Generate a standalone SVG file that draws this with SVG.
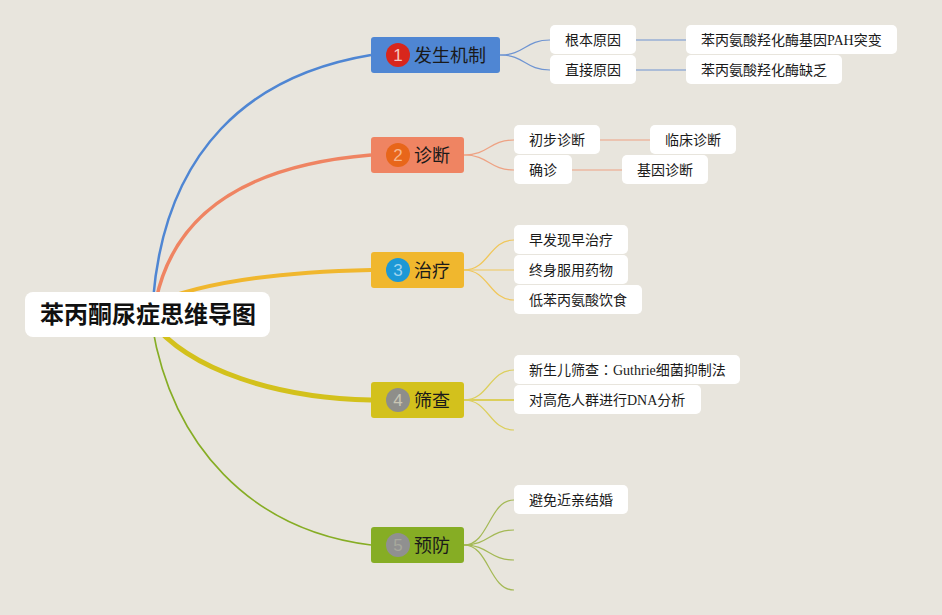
<svg xmlns="http://www.w3.org/2000/svg" width="942" height="615" viewBox="0 0 942 615">
<style>
.bg{fill:#e8e5dd}
.child rect{fill:#ffffff}
.t{font-family:"Liberation Serif","Noto Sans CJK SC",serif;font-size:14px;fill:#1a1a1a}
.mt{font-family:"Noto Sans CJK SC",sans-serif;font-size:18px;fill:#1a1a1a}
.num{font-family:"Liberation Sans","Noto Sans",sans-serif;font-size:17px;text-anchor:middle}
.root{font-family:"Noto Sans CJK SC",sans-serif;font-size:24px;font-weight:bold;fill:#111}
.jp{font-family:"Noto Sans CJK JP",sans-serif}
.c{fill:none}
</style>
<rect class="bg" x="0" y="0" width="942" height="615"/>
<g id="connectors">
  <path class="c" d="M153,300 C165,150 250,75 371,55" stroke="#4f86d3" stroke-width="2.5"/>
  <path class="c" d="M156,300 C175,210 250,165 371,155" stroke="#ef8462" stroke-width="3.5"/>
  <path class="c" d="M150,305 C200,282 280,272 371,270" stroke="#f0b72e" stroke-width="4"/>
  <path class="c" d="M150,320 C190,372 280,398 371,400" stroke="#d3c11c" stroke-width="5"/>
  <path class="c" d="M152,325 C172,445 250,530 371,545" stroke="#86ad24" stroke-width="1.6"/>
  <g stroke="#6e94d2" stroke-width="1.2" fill="none">
    <path d="M500,55 C525,55 525,40 550,40"/>
    <path d="M500,55 C525,55 525,70 550,70"/>
    <path d="M636,40 L686,40"/>
    <path d="M636,70 L686,70"/>
  </g>
  <g stroke="#eea283" stroke-width="1.2" fill="none">
    <path d="M464,155 C489,155 489,140 514,140"/>
    <path d="M464,155 C489,155 489,170 514,170"/>
    <path d="M600,140 L650,140"/>
    <path d="M572,170 L622,170"/>
  </g>
  <g stroke="#f0c75a" stroke-width="1.2" fill="none">
    <path d="M464,270 C489,270 489,240 514,240"/>
    <path d="M464,270 L514,270"/>
    <path d="M464,270 C489,270 489,300 514,300"/>
  </g>
  <g stroke="#dccf5c" stroke-width="1.2" fill="none">
    <path d="M464,400 C489,400 489,370 514,370"/>
    <path d="M464,400 L514,400" stroke-width="2"/>
    <path d="M464,400 C489,400 489,430 514,430"/>
  </g>
  <g stroke="#a4b955" stroke-width="1.2" fill="none">
    <path d="M464,545 C489,545 489,500 514,500"/>
    <path d="M464,545 C489,545 489,530 514,530"/>
    <path d="M464,545 C489,545 489,560 514,560"/>
    <path d="M464,545 C489,545 489,590 514,590"/>
  </g>
</g>
<g id="root">
  <rect x="25" y="292" width="245" height="45" rx="8" fill="#ffffff"/>
  <text class="root" x="40" y="323">苯丙酮尿症思维导图</text>
</g>
<g id="n1">
  <rect x="371" y="37" width="129" height="36" rx="3" fill="#4f86d3"/>
  <circle cx="398" cy="55" r="12" fill="#d8261c"/>
  <text class="num" x="398" y="61" fill="#f6c8c0">1</text>
  <text class="mt" x="414" y="61.5">发生机制</text>
</g>
<g id="n2">
  <rect x="371" y="137" width="93" height="36" rx="3" fill="#ef8462"/>
  <circle cx="398" cy="155" r="12" fill="#e8661a"/>
  <text class="num" x="398" y="161" fill="#f7b58c">2</text>
  <text class="mt" x="414" y="161.5">诊断</text>
</g>
<g id="n3">
  <rect x="371" y="252" width="93" height="36" rx="3" fill="#f0b72e"/>
  <circle cx="398" cy="270" r="12" fill="#1d98d6"/>
  <text class="num" x="398" y="276" fill="#9fd4ef">3</text>
  <text class="mt" x="414" y="276.5">治疗</text>
</g>
<g id="n4">
  <rect x="371" y="382" width="93" height="36" rx="3" fill="#d3c11c"/>
  <circle cx="398" cy="400" r="12" fill="#8e8e8a"/>
  <text class="num" x="398" y="406" fill="#c9c6b4">4</text>
  <text class="mt" x="414" y="406.5">筛查</text>
</g>
<g id="n5">
  <rect x="371" y="527" width="93" height="36" rx="3" fill="#86ad24"/>
  <circle cx="398" cy="545" r="12" fill="#909090"/>
  <text class="num" x="398" y="551" fill="#a7a89c">5</text>
  <text class="mt" x="414" y="551.5">预防</text>
</g>
<g id="c1a" class="child"><rect x="550" y="25" width="86" height="29" rx="5"/><text class="t" x="565" y="44.5">根本原因</text></g>
<g id="c1b" class="child"><rect x="550" y="55" width="86" height="29" rx="5"/><text class="t" x="565" y="74.5">直接原因</text></g>
<g id="c1a1" class="child"><rect x="686" y="25" width="211" height="29" rx="5"/><text class="t" x="701" y="44.5">苯丙氨酸羟化酶基因PAH突变</text></g>
<g id="c1b1" class="child"><rect x="686" y="55" width="156" height="29" rx="5"/><text class="t" x="701" y="74.5">苯丙氨酸羟化酶缺乏</text></g>
<g id="c2a" class="child"><rect x="514" y="125" width="86" height="29" rx="5"/><text class="t" x="529" y="144.5">初步诊断</text></g>
<g id="c2b" class="child"><rect x="514" y="155" width="58" height="29" rx="5"/><text class="t" x="529" y="174.5">确诊</text></g>
<g id="c2a1" class="child"><rect x="650" y="125" width="86" height="29" rx="5"/><text class="t" x="665" y="144.5">临床诊断</text></g>
<g id="c2b1" class="child"><rect x="622" y="155" width="86" height="29" rx="5"/><text class="t" x="637" y="174.5">基因诊断</text></g>
<g id="c3a" class="child"><rect x="514" y="225" width="114" height="29" rx="5"/><text class="t" x="529" y="244.5">早发现早治疗</text></g>
<g id="c3b" class="child"><rect x="514" y="255" width="114" height="29" rx="5"/><text class="t" x="529" y="274.5">终身服用药物</text></g>
<g id="c3c" class="child"><rect x="514" y="285" width="128" height="29" rx="5"/><text class="t" x="529" y="304.5">低苯丙氨酸饮食</text></g>
<g id="c4a" class="child"><rect x="514" y="355" width="226" height="29" rx="5"/><text class="t" x="529" y="374.5">新生儿筛查<tspan class="jp">：</tspan>Guthrie细菌抑制法</text></g>
<g id="c4b" class="child"><rect x="514" y="385" width="187" height="29" rx="5"/><text class="t" x="529" y="404.5">对高危人群进行DNA分析</text></g>
<g id="c5a" class="child"><rect x="514" y="485" width="114" height="29" rx="5"/><text class="t" x="529" y="504.5">避免近亲结婚</text></g>
</svg>
